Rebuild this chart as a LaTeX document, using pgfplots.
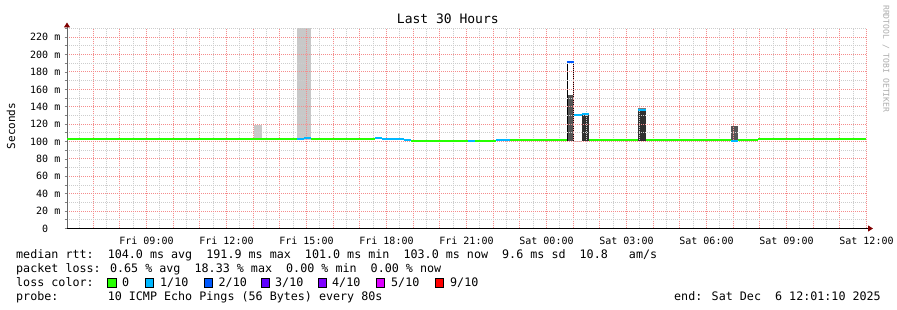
\documentclass[border=0pt]{standalone}
\usepackage{fontspec}
\setmainfont{DejaVu Sans}
\newfontfamily\dvm{DejaVu Sans Mono}
\usepackage{pgfplots}
\pgfplotsset{compat=1.18}
\usetikzlibrary{arrows.meta}
\definecolor{lossA}{HTML}{26FF00}
\definecolor{lossB}{HTML}{00B8FF}
\definecolor{lossC}{HTML}{0059FF}
\definecolor{lossD}{HTML}{5E00FF}
\definecolor{lossE}{HTML}{7E00FF}
\definecolor{lossF}{HTML}{DD00FF}
\definecolor{lossG}{HTML}{FF0000}
\definecolor{mgrid}{RGB}{245,140,140}
\definecolor{ngrid}{RGB}{205,205,205}
\definecolor{arrowred}{RGB}{128,0,0}
\definecolor{smokeL}{RGB}{200,200,200}
\definecolor{smokeM}{RGB}{119,119,119}
\definecolor{smokeD}{RGB}{85,85,85}
\definecolor{smokeX}{RGB}{48,48,48}
\newcommand\axfont{\dvm\fontsize{10}{12}\selectfont}
\newcommand\legfont{\dvm\fontsize{11.7}{14}\selectfont}
\newcommand\titfont{\dvm\fontsize{13}{15}\selectfont}
\begin{document}
\begin{tikzpicture}[x=1pt,y=1pt]
\path[fill=white] (0,0) rectangle (897,310);
\begin{axis}[
  set layers, axis on top,
  at={(67pt,81.5pt)}, anchor=south west,
  scale only axis, width=800pt, height=200pt,
  xmin=6.0194, xmax=36.0194, ymin=0, ymax=230,
  axis x line=bottom, axis y line=left,
  x axis line style={draw=black, line width=1pt, shorten >=-6pt, -{Triangle[length=5pt,width=6pt,color=arrowred]}},
  y axis line style={draw=black!60, line width=1pt, shorten >=-6pt, -{Triangle[length=5pt,width=6pt,color=arrowred]}},
  xtick={7,...,36},
  minor xtick={6.5,7.5,...,35.5},
  xticklabels={,,Fri 09:00,,,Fri 12:00,,,Fri 15:00,,,Fri 18:00,,,Fri 21:00,,,Sat 00:00,,,Sat 03:00,,,Sat 06:00,,,Sat 09:00,,,Sat 12:00},
  ytick={0,20,...,220},
  minor ytick={10,30,...,230},
  yticklabels={0\hphantom{\ m},20 m,40 m,60 m,80 m,100 m,120 m,140 m,160 m,180 m,200 m,220 m},
  grid=both,
  every axis grid/.style={},
  every major grid/.style={draw=mgrid, line width=1pt, dash pattern=on 1pt off 1pt},
  every minor grid/.style={draw=ngrid, line width=1pt, dash pattern=on 1pt off 1pt},
  tick align=outside, major tick length=2.5pt, minor tick length=2.5pt,
  xtick style={draw=none},
  minor x tick style={draw=none},
  ytick style={line width=0.8pt},
  minor y tick style={line width=0.8pt},
  xticklabel style={font=\axfont, anchor=base, inner sep=0pt, yshift=-13.5pt},
  yticklabel style={font=\axfont, anchor=east, inner sep=0pt, xshift=-4pt},
  title={Last 30 Hours},
  every axis title/.style={at={(axis description cs:0.476,1)}, anchor=base, yshift=4.5pt, font=\titfont},
  ylabel={Seconds},
  every axis y label/.style={at={(axis description cs:-0.07,0.5125)}, rotate=90, anchor=center, font=\dvm\fontsize{11}{13}\selectfont},
]
% smoke
\addplot[fill=smokeL, draw=none] coordinates {(13.032,102) (13.032,119) (13.332,119) (13.332,102)};
\addplot[fill=smokeL, draw=none] coordinates {(14.644,102) (14.644,240) (15.169,240) (15.169,102)};
\addplot[fill=white, draw=none] coordinates {(24.769,101) (24.769,191.9) (25.032,191.9) (25.032,101)};
\addplot[fill=smokeD, draw=none] coordinates {(24.769,101) (24.769,153.5) (25.032,153.5) (25.032,101)};
\addplot[draw=black, line width=1pt] coordinates {(24.785,101) (24.785,191.4) (25.016,191.4) (25.016,101)};
\addplot[draw=smokeL, line width=1pt] coordinates {(25.032,100.6) (25.332,100.6)};
\addplot[fill=smokeX, draw=none] coordinates {(25.332,101) (25.332,131) (25.594,131) (25.594,101)};
\addplot[fill=smokeM, draw=none] coordinates {(27.432,101) (27.432,138.3) (27.732,138.3) (27.732,101)};
\addplot[fill=smokeX, draw=none] coordinates {(27.432,101) (27.432,135.5) (27.732,135.5) (27.732,101)};
\addplot[fill=smokeD, draw=none] coordinates {(30.919,101) (30.919,118) (31.182,118) (31.182,101)};
% median rtt, coloured by loss
\addplot[lossA, line width=2pt, on layer=axis foreground] coordinates {(6.0194,103.2) (14.644,103.2)};
\addplot[lossB, line width=2pt, on layer=axis foreground] coordinates {(14.644,103.2) (14.907,103.2)};
\addplot[lossB, line width=2pt, on layer=axis foreground] coordinates {(14.907,104.6) (15.169,104.6)};
\addplot[lossA, line width=2pt, on layer=axis foreground] coordinates {(15.169,103.2) (17.569,103.2)};
\addplot[lossB, line width=2pt, on layer=axis foreground] coordinates {(17.569,104.5) (17.832,104.5)};
\addplot[lossB, line width=2pt, on layer=axis foreground] coordinates {(17.832,103.2) (18.657,103.2)};
\addplot[lossB, line width=2pt, on layer=axis foreground] coordinates {(18.657,101.9) (18.919,101.9)};
\addplot[lossA, line width=2pt, on layer=axis foreground] coordinates {(18.919,100.9) (21.045,100.9)};
\addplot[lossB, line width=2pt, on layer=axis foreground] coordinates {(21.045,100.9) (21.319,100.9)};
\addplot[lossA, line width=2pt, on layer=axis foreground] coordinates {(21.319,100.9) (22.107,100.9)};
\addplot[lossB, line width=2pt, on layer=axis foreground] coordinates {(22.107,101.3) (22.370,101.3)};
\addplot[lossB, line width=2pt, on layer=axis foreground] coordinates {(22.370,101.8) (22.632,101.8)};
\addplot[lossA, line width=2pt, on layer=axis foreground] coordinates {(22.632,101.8) (24.769,101.8)};
\addplot[lossC, line width=2pt, on layer=axis foreground] coordinates {(24.769,191.9) (25.032,191.9)};
\addplot[lossB, line width=2pt, on layer=axis foreground] coordinates {(25.032,130.7) (25.332,130.7)};
\addplot[lossB, line width=2pt, on layer=axis foreground] coordinates {(25.332,132.0) (25.594,132.0)};
\addplot[lossA, line width=2pt, on layer=axis foreground] coordinates {(25.594,101.8) (27.432,101.8)};
\addplot[lossB, line width=2pt, on layer=axis foreground] coordinates {(27.432,136.3) (27.732,136.3)};
\addplot[lossA, line width=2pt, on layer=axis foreground] coordinates {(27.732,101.8) (30.919,101.8)};
\addplot[lossB, line width=2pt, on layer=axis foreground] coordinates {(30.919,101.1) (31.182,101.1)};
\addplot[lossA, line width=2pt, on layer=axis foreground] coordinates {(31.182,101.8) (31.932,101.8)};
\addplot[lossA, line width=2pt, on layer=axis foreground] coordinates {(31.932,103.2) (35.98,103.2)};
\end{axis}
% watermark
\node[rotate=-90, anchor=west, inner sep=0pt, text=black!32, font=\dvm\fontsize{8.1}{9}\selectfont] at (886,305) {RRDTOOL / TOBI OETIKER};
% legend
\node[anchor=base west, inner sep=0pt, font=\legfont] at (16,51) {median rtt:\ \ 104.0 ms avg\ \ 191.9 ms max\ \ 101.0 ms min\ \ 103.0 ms now\ \ 9.6 ms sd\ \ 10.8\ \ \ am/s};
\node[anchor=base west, inner sep=0pt, font=\legfont] at (16,37) {packet loss: 0.65 \% avg\ \ 18.33 \% max\ \ 0.00 \% min\ \ 0.00 \% now};
\node[anchor=base west, inner sep=0pt, font=\legfont] at (16,23) {loss color:};
\foreach \bx/\tx/\col/\lab in {107.5/122/lossA/{0}, 145/160/lossB/{1/10}, 204/218.5/lossC/{2/10}, 261/275/lossD/{3/10}, 318/332/lossE/{4/10}, 376/391/lossF/{5/10}, 435/450/lossG/{9/10}}{
  \filldraw[fill=\col, draw=black, line width=0.8pt] (\bx,22.5) rectangle ++(8.5,9.5);
  \node[anchor=base west, inner sep=0pt, font=\legfont] at (\tx,23) {\lab};
}
\node[anchor=base west, inner sep=0pt, font=\legfont] at (16,9) {probe:\ \ \ \ \ \ \ 10 ICMP Echo Pings (56 Bytes) every 80s};
\node[anchor=base east, inner sep=0pt, font=\legfont] at (881,9) {end: Sat Dec\ \ 6 12:01:10 2025};
\end{tikzpicture}
\end{document}
